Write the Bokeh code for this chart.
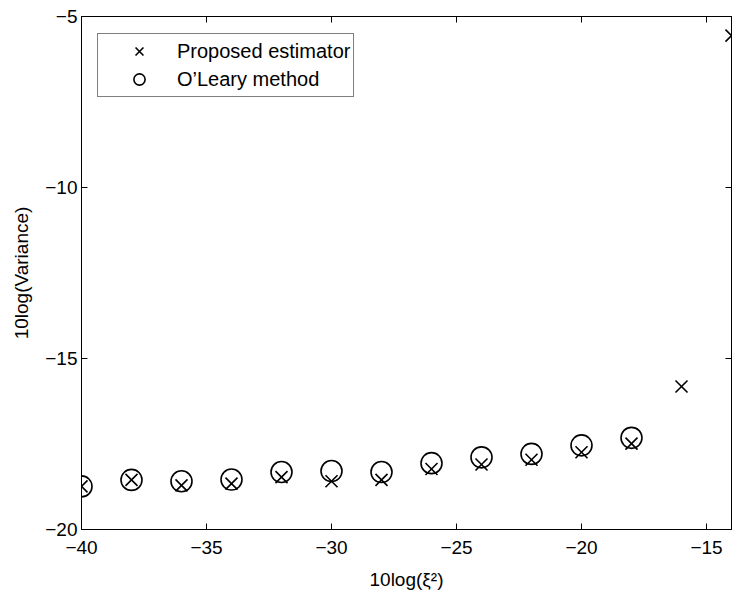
from bokeh.plotting import figure
from bokeh.models import LinearAxis, Legend, LegendItem, Range1d, FixedTicker
from bokeh.embed import file_html
from bokeh.resources import INLINE

# data
x_prop = [-40, -38, -36, -34, -32, -30, -28, -26, -24, -22, -20, -18, -16, -14]
y_prop = [-18.74, -18.55, -18.71, -18.66, -18.47, -18.59, -18.55, -18.23, -18.10, -17.96, -17.74, -17.49, -15.82, -5.56]
x_ole = [-40, -38, -36, -34, -32, -30, -28, -26, -24, -22, -20, -18]
y_ole = [-18.74, -18.55, -18.59, -18.54, -18.32, -18.29, -18.32, -18.06, -17.89, -17.79, -17.54, -17.32]
x_ticks = [-40, -35, -30, -25, -20, -15]
y_ticks = [-20, -15, -10, -5]
x_label = "10log(\u03be\u00b2)"
y_label = "10log(Variance)"
names = ["Proposed estimator", "O\u2019Leary method"]

FONT = "Liberation Sans"
FS = "19px"

p = figure(width=738, height=597, output_backend="svg", toolbar_location=None,
           x_range=Range1d(-40, -14), y_range=Range1d(-20, -5),
           min_border_left=81, min_border_right=7, min_border_top=16, min_border_bottom=68)
p.xgrid.visible = False
p.ygrid.visible = False
p.outline_line_color = "black"
p.outline_line_width = 1
p.background_fill_color = "white"
p.border_fill_color = "white"

def style_axis(ax, ticks, labels=True):
    ax.ticker = FixedTicker(ticks=ticks)
    ax.major_tick_in = 6
    ax.major_tick_out = 0
    ax.minor_tick_in = 0
    ax.minor_tick_out = 0
    ax.axis_line_color = "black"
    ax.major_tick_line_color = "black"
    ax.major_label_text_font = FONT
    ax.major_label_text_color = "black"
    ax.axis_label_text_font = FONT
    ax.axis_label_text_font_style = "normal"
    ax.axis_label_text_color = "black"
    ax.axis_label_text_font_size = FS
    if labels:
        ax.major_label_text_font_size = FS
        ax.major_label_overrides = {t: ("\u2212" + str(abs(t)) if t < 0 else str(t)) for t in ticks}
    else:
        ax.major_label_text_font_size = "1px"
        ax.major_label_text_color = None
        ax.major_label_standoff = 0
        ax.axis_label = None

xa = p.xaxis[0]
style_axis(xa, x_ticks)
xa.axis_label = x_label
xa.major_label_standoff = 11
xa.axis_label_standoff = 12

ya = p.yaxis[0]
style_axis(ya, y_ticks)
ya.axis_label = y_label
ya.major_label_standoff = 4
ya.axis_label_standoff = 10

top = LinearAxis()
style_axis(top, x_ticks, labels=False)
p.add_layout(top, "above")
right = LinearAxis()
style_axis(right, y_ticks, labels=False)
p.add_layout(right, "right")

r1 = p.scatter(x_prop, y_prop, marker="x", size=17, line_color="black", line_width=1.6)
r2 = p.scatter(x_ole, y_ole, marker="circle", size=21, line_color="black", line_width=1.6, fill_color=None)

legend = Legend(items=[LegendItem(label=names[0], renderers=[r1]),
                       LegendItem(label=names[1], renderers=[r2])],
                location=(16, 432), orientation="vertical",
                border_line_color="black", border_line_width=1,
                background_fill_color="white", background_fill_alpha=1,
                label_text_font=FONT, label_text_font_size="20px", label_text_color="black",
                padding=3, margin=0, spacing=0, glyph_height=28, glyph_width=76,
                label_standoff=0, label_height=20)
p.add_layout(legend, "center")

open("out.html", "w").write(file_html(p, INLINE))
